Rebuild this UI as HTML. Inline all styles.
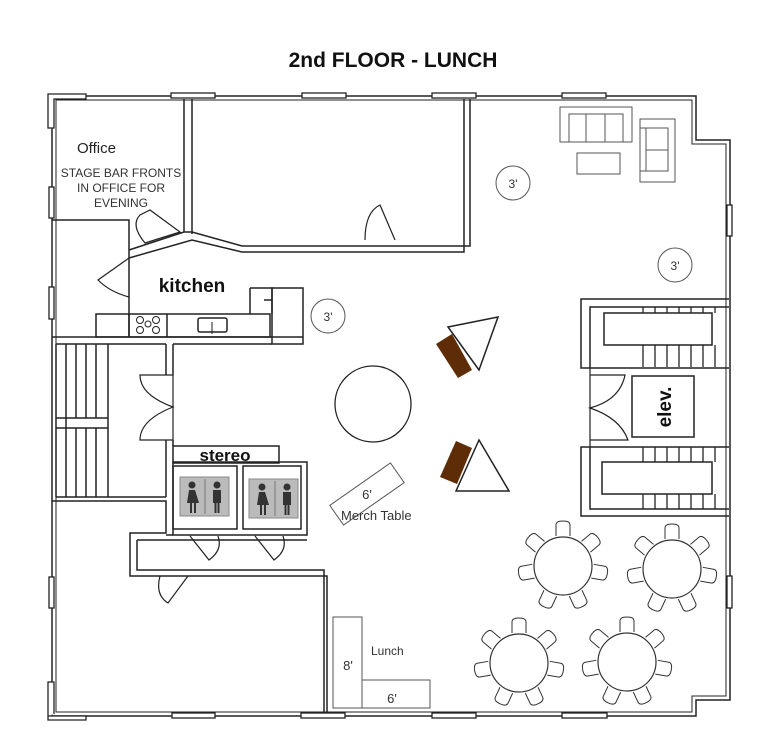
<!DOCTYPE html>
<html><head><meta charset="utf-8"><style>
html,body{margin:0;padding:0;background:#fff;}
svg{display:block;}
text{font-family:"Liberation Sans",sans-serif;}
</style></head><body>
<svg width="768" height="738" viewBox="0 0 768 738" xmlns="http://www.w3.org/2000/svg">
<defs>
<g id="chair"><path d="M-7,-30 L-7,-41 Q-7,-45 0,-45 Q7,-45 7,-41 L7,-30" fill="#fff" stroke="#333" stroke-width="1"/></g>
<g id="tbl">
<use href="#chair"/><use href="#chair" transform="rotate(50)"/><use href="#chair" transform="rotate(100)"/><use href="#chair" transform="rotate(155)"/><use href="#chair" transform="rotate(205)"/><use href="#chair" transform="rotate(260)"/><use href="#chair" transform="rotate(310)"/>
<circle r="29" fill="#fff" stroke="#333" stroke-width="1.2"/>
</g>
<g id="tread"><path d="M0,0 v6 M12,0 v6 M24,0 v6 M36,0 v6 M48,0 v6 M60,0 v6 M72,0 v6" stroke="#222" stroke-width="1.3"/></g>
<g id="person" fill="#333">
<circle cx="0" cy="-14" r="3.5"/>
<path d="M-3,-9 h6 l4,13 h-3 v10 h-2 v-10 h-2 v10 h-2 v-10 h-3 z"/>
</g>
<g id="man" fill="#333">
<circle cx="0" cy="-14" r="3.5"/>
<path d="M-4,-9 h8 v13 h-1.5 v10 h-2 v-10 h-1 v10 h-2 v-10 h-1.5 z"/>
</g>
</defs>

<text x="393" y="67" text-anchor="middle" font-size="21" font-weight="bold" fill="#111">2nd FLOOR - LUNCH</text>

<g fill="none" stroke="#222" stroke-width="1.5">
<path d="M52,96 H696 V140 H730 V700 H696 V716 H52 Z"/>
<path d="M56,100 H692 V144 H726 V696 H692 V712 H56 Z" stroke-width="1"/>
<path d="M184,99 V232 M192,99 V234"/>
<path d="M52,220 H129 V336"/>
<path d="M129,250 L184,232 L192,232 L242,246 H470 V99 M129,258 L192,240 L242,252 H464 V99" />
<rect x="96" y="314" width="174" height="23"/>
<path d="M129,314 V337 M167,314 V337"/>
<rect x="198" y="318" width="29" height="14" rx="2"/>
<path d="M250,288 H272 V314 M250,288 V314 M264,300 H272"/>
<rect x="272" y="288" width="31" height="56"/>
<path d="M52,337 H303 M56,344 H166 M173,344 H272"/>
<path d="M56,344 V497 M66,344 V497 M76,344 V418 M86,344 V418 M96,344 V418 M108,344 V497 M76,428 V497 M86,428 V497 M96,428 V497"/>
<path d="M56,418 H108 M56,428 H108 M56,497 H108 M108,497 H166"/>
<path d="M166,344 V375 M173,344 V375 M173,440 V446 M166,440 V497"/>
<path d="M173,375 H140 Q140,395 173,407 Q140,420 140,440 H173 Z" stroke-width="1.2"/>
<rect x="173" y="446" width="106" height="17"/>
<rect x="173" y="462" width="134" height="73"/>
<rect x="173" y="466" width="64" height="63"/>
<rect x="243" y="466" width="58" height="63"/>
<path d="M52,501 H166 V533 H130 V576 H327 V716 M137,540 H307 M137,540 V570 H324 V716 M166,535 H173"/>
<path d="M190,536 L209,560 Q223,550 218,536 M255,536 L274,560 Q288,550 283,536 M160,576 Q155,595 168,603 L188,576" stroke-width="1.2"/>
<path d="M729,299 H581 V368 H729 M729,307 H590 V368"/>
<rect x="604" y="313" width="108" height="32"/>
<path d="M729,447 H581 V516 H729 M729,509 H590 V447"/>
<rect x="602" y="462" width="110" height="32"/>
<rect x="632" y="376" width="62" height="61"/>
<path d="M590,368 V447 M590,375 H625 Q620,400 590,408 Q620,418 628,440 H590" stroke-width="1.2"/>
</g>
<g fill="none" stroke="#222" stroke-width="1">
<circle cx="140" cy="320" r="3.5"/><circle cx="148" cy="324" r="3"/><circle cx="156" cy="320" r="3.5"/>
<circle cx="140" cy="330" r="3.5"/><circle cx="156" cy="330" r="3.5"/>
<path d="M212,322 v12"/>
</g>
<use href="#tread" x="643" y="307"/>
<path d="M643,345 v22 M655,345 v22 M667,345 v22 M679,345 v22 M691,345 v22 M703,345 v22 M715,345 v22 M643,447 v15 M655,447 v15 M667,447 v15 M679,447 v15 M691,447 v15 M703,447 v15 M715,447 v15 M643,494 v15 M655,494 v15 M667,494 v15 M679,494 v15 M691,494 v15 M703,494 v15 M715,494 v15" stroke="#222" stroke-width="1.3"/>

<g fill="#fff" stroke="#222" stroke-width="1.3">
<rect x="171" y="93" width="44" height="5"/><rect x="302" y="93" width="44" height="5"/><rect x="432" y="93" width="44" height="5"/><rect x="562" y="93" width="44" height="5"/>
<rect x="172" y="713" width="43" height="5"/><rect x="301" y="713" width="44" height="5"/><rect x="432" y="713" width="44" height="5"/><rect x="562" y="713" width="45" height="5"/>
<rect x="49" y="187" width="5" height="31"/><rect x="49" y="287" width="5" height="32"/><rect x="49" y="577" width="5" height="31"/>
<rect x="727" y="205" width="5" height="31"/><rect x="727" y="576" width="5" height="32"/>
<path d="M48,94 H86 V99 H54 V128 H48 Z"/><path d="M48,716 H86 V720 H48 V682 H54 V714"/>
</g>

<g fill="none" stroke="#222" stroke-width="1.2">
<path d="M140,215 Q130,225 145,243 L180,232 L150,210 Z"/>
<path d="M129,258 L98,280 Q110,292 129,297"/>
<path d="M365,240 Q365,212 380,205 L395,240"/>
</g>

<rect x="180" y="477" width="49" height="39" fill="#bbb" stroke="#888"/>
<rect x="249" y="479" width="49" height="39" fill="#bbb" stroke="#888"/>
<line x1="205" y1="479" x2="205" y2="514" stroke="#777"/>
<line x1="275" y1="481" x2="275" y2="516" stroke="#777"/>
<use href="#person" x="192" y="499"/><use href="#man" x="217" y="499"/>
<use href="#person" x="262" y="501"/><use href="#man" x="287" y="501"/>

<g fill="none" stroke="#555" stroke-width="1">
<rect x="560" y="107" width="72" height="35"/>
<path d="M569,142 V114 H623 V142 M586,114 V142 M605,114 V142"/>
<rect x="577" y="153" width="43" height="21"/>
<rect x="640" y="119" width="35" height="63"/>
<path d="M640,128 H668 V171 H640 M646,128 V171 M646,150 H668"/>
<circle cx="513" cy="183" r="17"/><circle cx="675" cy="265" r="17"/><circle cx="328" cy="316" r="17"/>
<rect x="333" y="617" width="29" height="91"/>
<rect x="362" y="680" width="68" height="28"/>
<rect x="-37" y="-12" width="74" height="24" transform="translate(367,494) rotate(-35)"/>
</g>
<circle cx="373" cy="404" r="38" fill="none" stroke="#222" stroke-width="1.3"/>

<g font-size="12" fill="#333">
<text x="513" y="188" text-anchor="middle">3'</text>
<text x="675" y="270" text-anchor="middle">3'</text>
<text x="328" y="321" text-anchor="middle">3'</text>
<text x="367" y="499" text-anchor="middle" font-size="13">6'</text>
<text x="341" y="520" font-size="13">Merch Table</text>
<text x="371" y="655" font-size="12">Lunch</text>
<text x="348" y="670" text-anchor="middle" font-size="13">8'</text>
<text x="392" y="703" text-anchor="middle" font-size="13">6'</text>
</g>

<polygon points="436,344 452,334 472,370 458,378" fill="#5e2c06"/>
<polygon points="448,327 498,317 479,370" fill="#fff" stroke="#222" stroke-width="1.5"/>
<polygon points="456,441 472,448 457,484 440,477" fill="#5e2c06"/>
<polygon points="479,440 456,491 509,491" fill="#fff" stroke="#222" stroke-width="1.5"/>

<use href="#tbl" x="563" y="566"/>
<use href="#tbl" x="672" y="569"/>
<use href="#tbl" x="519" y="663"/>
<use href="#tbl" x="627" y="662"/>

<text x="77" y="153" font-size="15" fill="#222">Office</text>
<g font-size="12" fill="#333" text-anchor="middle">
<text x="121" y="177">STAGE BAR FRONTS</text>
<text x="121" y="192">IN OFFICE FOR</text>
<text x="121" y="207">EVENING</text>
</g>
<text x="192" y="292" font-size="19" font-weight="bold" text-anchor="middle" fill="#111">kitchen</text>
<text x="225" y="461" font-size="17" font-weight="bold" text-anchor="middle" fill="#111">stereo</text>
<text transform="translate(671,407) rotate(-90)" font-size="19" font-weight="bold" text-anchor="middle" fill="#111">elev.</text>
</svg>
</body></html>
